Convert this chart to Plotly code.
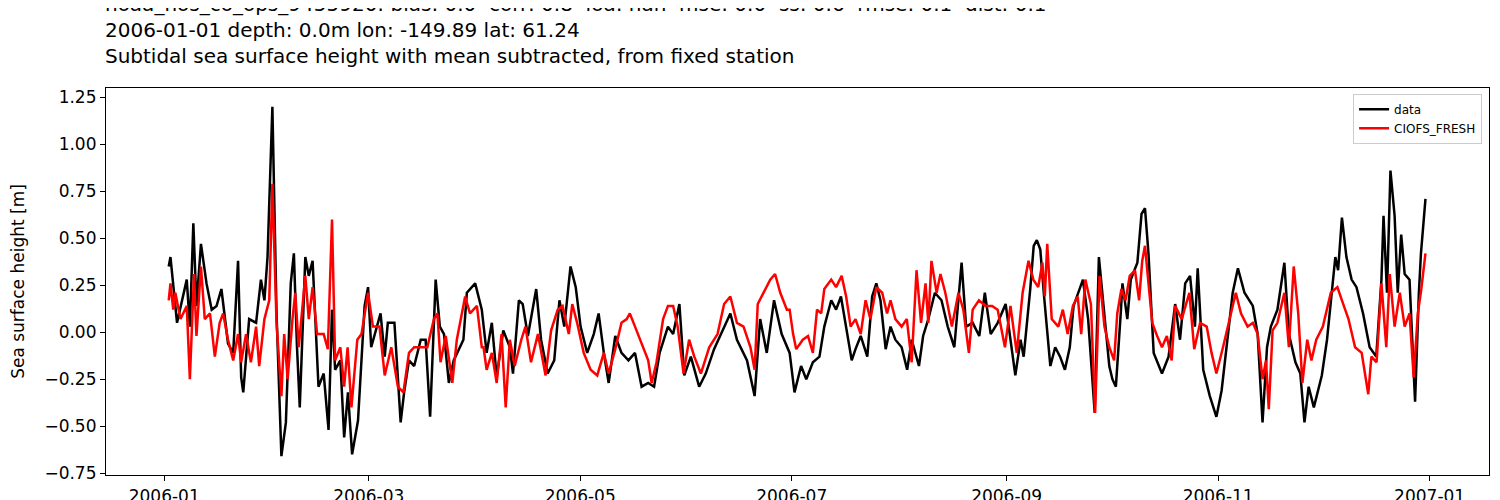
import pandas as pd
import plotly.graph_objects as go

# day-of-year offsets (days since 2006-01-01) and subtidal SSH [m]
data_days = [1.3, 1.8, 3.7, 6.5, 7.4, 8.4, 9.3, 10.6, 12.2, 13.7, 15.1, 16.5, 18.4, 19.9, 21.3, 22.2, 22.8, 24.5, 26.5, 27.9,
             28.9, 29.8, 31.2, 32.4, 33.8, 35.1, 36.5, 37.4, 38.3, 39.1, 40.7, 41.7, 42.8, 44.5, 46.0, 47.4, 48.4, 49.3, 50.8, 51.9,
             53.0, 54.2, 55.9, 57.8, 58.8, 59.7, 62.4, 63.6, 64.5, 66.4, 68.2, 69.2, 70.6, 72.1, 74.0, 75.4, 76.7, 78.3, 79.5, 80.7,
             82.1, 83.5, 86.3, 87.3, 89.7, 91.6, 93.0, 94.5, 95.9, 97.8, 99.7, 100.6, 102.3, 103.4, 104.9, 106.3, 107.3, 108.7, 110.6,
             112.5, 114.0, 115.4, 117.2, 118.7, 120.1, 122.0, 123.9, 125.3, 126.8, 128.2, 130.1, 131.9, 133.9, 135.8, 137.7, 139.6,
             141.3, 142.9, 145.3, 146.8, 148.6, 150.0, 151.9, 154.3, 156.2, 158.6, 161.5, 163.3, 165.2, 168.1, 170.3, 171.9, 173.8,
             175.9, 178.1, 180.4, 181.8, 183.7, 185.2, 187.1, 189.0, 190.4, 192.4, 193.8, 195.2, 196.6, 198.3, 199.4, 200.9, 202.8,
             204.2, 205.4, 206.6, 208.1, 209.5, 210.9, 212.7, 214.3, 215.6, 217.7, 218.9, 220.4, 222.3, 224.2, 226.0, 227.9, 230.0,
             231.3, 233.2, 235.1, 236.7, 238.4, 240.4, 242.7, 244.1, 245.5, 247.0, 247.9, 249.8, 250.8, 251.7, 252.7, 253.7, 255.6,
             257.0, 258.4, 259.8, 261.2, 262.3, 265.0, 266.5, 268.4, 269.6, 271.2, 272.6, 273.5, 274.5, 275.9, 276.4, 277.8, 278.8,
             280.7, 281.9, 282.9, 283.9, 285.4, 287.8, 289.7, 291.6, 293.0, 294.5, 295.9, 297.3, 298.1, 299.7, 301.6, 303.5, 305.0,
             306.8, 308.2, 309.7, 311.6, 314.0, 315.4, 316.8, 318.1, 319.2, 321.1, 323.1, 324.4, 326.3, 327.7, 328.9, 330.1, 331.6,
             333.9, 335.4, 337.8, 338.6, 339.7, 341.0, 342.5, 343.9, 345.8, 347.7, 349.6, 351.1, 351.7, 352.7, 353.7, 354.9, 355.8,
             356.8, 357.8, 359.2, 360.8, 361.9, 362.5, 363.8]
data_vals = [0.35, 0.40, 0.05, 0.28, 0.03, 0.58, 0.14, 0.47, 0.26, 0.12, 0.14, 0.23, -0.06, -0.11, 0.38, -0.24, -0.32, 0.07, 0.05, 0.28,
             0.17, 0.40, 1.20, 0.10, -0.66, -0.48, 0.26, 0.42, -0.08, -0.40, 0.40, 0.30, 0.38, -0.29, -0.22, -0.52, 0.12, -0.20, -0.15, -0.56,
             -0.32, -0.65, -0.47, 0.14, 0.24, -0.08, 0.10, -0.13, 0.05, 0.05, -0.48, -0.32, -0.15, -0.18, -0.04, -0.04, -0.45, 0.28, 0.03, -0.01,
             -0.27, -0.15, -0.04, 0.21, 0.26, 0.12, -0.11, 0.05, -0.24, 0.01, -0.08, -0.22, 0.17, 0.15, -0.02, 0.14, 0.23, -0.04, -0.22,
             -0.15, 0.17, 0.03, 0.35, 0.24, 0.03, -0.11, -0.01, 0.10, -0.11, -0.27, -0.02, -0.11, -0.15, -0.11, -0.29, -0.27,
             -0.29, -0.11, 0.03, -0.01, 0.15, -0.23, -0.13, -0.29, -0.22, -0.09, 0.03, 0.10, -0.04, -0.15, -0.34, 0.07, -0.11,
             0.17, -0.01, -0.11, -0.32, -0.18, -0.25, -0.16, -0.13, 0.03, 0.17, 0.12, 0.19, 0.03, -0.15, -0.09, -0.02, -0.13,
             0.19, 0.26, 0.17, -0.09, 0.03, -0.04, -0.08, -0.20, -0.04, -0.18, -0.02, 0.07, 0.21, 0.17, 0.03, -0.08, 0.37,
             0.03, 0.05, -0.02, 0.21, -0.01, 0.05, 0.15, -0.04, -0.23, -0.04, -0.13, 0.23, 0.46, 0.49, 0.44, 0.21, -0.18,
             -0.08, -0.13, -0.20, -0.08, 0.14, 0.28, 0.07, -0.43, 0.40, 0.07, -0.18, -0.25, -0.29, 0.10, 0.26, 0.07, 0.28,
             0.37, 0.63, 0.66, 0.42, -0.11, -0.22, -0.13, 0.15, -0.04, 0.26, 0.30, 0.03, 0.34, -0.20, -0.34, -0.45, -0.31,
             -0.01, 0.21, 0.34, 0.21, 0.14, -0.01, -0.48, -0.08, 0.03, 0.12, 0.37, -0.01, -0.16, -0.22, -0.48, -0.29, -0.40,
             -0.23, -0.04, 0.40, 0.33, 0.61, 0.40, 0.28, 0.24, 0.10, -0.08, -0.13, 0.28, 0.62, 0.21, 0.86, 0.62, 0.21,
             0.52, 0.31, 0.28, -0.37, 0.21, 0.42, 0.71]

model_days = [1.3, 1.8, 2.6, 3.2, 4.7, 6.5, 7.4, 8.6, 9.3, 10.6, 11.7, 13.2, 14.6, 16.0, 17.0, 18.4, 19.9, 21.3, 22.2, 23.6,
              25.0, 26.5, 27.4, 28.9, 30.3, 31.2, 32.4, 33.8, 34.6, 35.6, 37.0, 37.8, 38.8, 40.7, 41.7, 42.8, 44.1, 46.0, 47.2, 48.4,
              49.3, 50.8, 51.9, 52.9, 54.0, 55.7, 56.9, 58.8, 60.2, 62.1, 63.6, 65.5, 67.4, 69.0, 70.6, 72.1, 74.0, 75.9, 77.8, 78.8,
              79.7, 81.2, 83.1, 84.4, 86.8, 88.2, 90.2, 91.6, 92.1, 93.0, 94.5, 95.9, 97.3, 98.5, 99.7, 101.1, 103.0, 104.2, 105.8,
              107.8, 110.0, 111.6, 113.5, 114.9, 116.7, 117.7, 119.1, 121.0, 123.0, 124.9, 126.8, 128.2, 130.1, 131.9, 133.4, 134.3,
              135.8, 137.7, 139.6, 140.6, 142.0, 143.9, 145.3, 146.8, 148.1, 149.8, 151.4, 152.9, 154.8, 157.2, 159.6, 161.5, 163.3,
              165.2, 167.1, 169.1, 170.3, 171.2, 172.9, 174.8, 176.2, 177.7, 179.6, 180.4, 181.4, 182.3, 184.2, 185.7, 187.1, 188.3,
              189.5, 190.4, 192.4, 193.8, 195.4, 196.7, 198.0, 199.4, 200.9, 202.3, 203.7, 205.4, 207.1, 208.5, 209.5, 210.9, 212.7,
              214.2, 215.6, 217.0, 218.3, 219.6, 220.4, 221.3, 222.8, 223.9, 225.3, 227.2, 229.1, 230.5, 232.1, 233.2, 235.0, 236.9,
              238.8, 240.4, 242.5, 244.1, 245.9, 247.6, 249.3, 250.7, 252.1, 253.3, 254.0, 254.7, 256.0, 257.9, 259.2, 260.6, 262.1,
              263.5, 264.5, 265.7, 267.3, 268.5, 269.8, 271.2, 272.6, 274.0, 274.9, 276.1, 277.3, 278.5, 280.0, 281.2, 282.1, 282.9,
              283.8, 285.0, 286.4, 287.8, 289.2, 290.6, 291.6, 293.5, 295.7, 297.1, 298.8, 300.7, 302.1, 303.5, 305.4, 307.2, 309.1,
              310.6, 312.5, 314.0, 315.4, 316.8, 317.8, 318.6, 319.7, 321.1, 323.1, 324.4, 325.8, 327.1, 328.3, 329.7, 330.9, 332.3,
              334.2, 336.5, 338.4, 339.7, 341.6, 343.5, 345.4, 347.3, 348.2, 349.7, 351.1, 352.5, 353.5, 354.9, 356.4, 357.8, 359.2,
              360.4, 361.6, 362.6, 363.8]
model_vals = [0.17, 0.26, 0.12, 0.21, 0.07, 0.14, -0.25, 0.31, -0.02, 0.35, 0.07, 0.10, -0.13, 0.05, 0.10, -0.04, -0.15, -0.01, -0.16, -0.01,
              -0.16, 0.03, -0.18, 0.07, 0.17, 0.79, 0.05, -0.34, -0.01, -0.25, 0.07, 0.21, -0.08, 0.30, 0.07, 0.24, -0.01, -0.01, -0.09, 0.60,
              -0.15, -0.08, -0.29, -0.08, -0.40, -0.04, -0.01, 0.21, 0.03, 0.03, -0.23, -0.08, -0.29, -0.32, -0.11, -0.08, -0.08, -0.08, 0.07, 0.10,
              -0.16, -0.02, -0.27, -0.04, 0.19, 0.10, 0.14, -0.08, -0.08, -0.20, -0.11, -0.27, -0.01, -0.40, -0.04, -0.18, -0.04, 0.03, -0.16,
              -0.01, -0.23, 0.01, 0.12, 0.14, -0.01, 0.15, 0.05, -0.11, -0.20, -0.23, -0.11, -0.22, -0.09, 0.05, 0.07, 0.10,
              0.03, -0.06, -0.15, -0.27, -0.16, 0.07, 0.14, 0.14, 0.03, -0.22, -0.04, -0.13, -0.22, -0.08, -0.01, 0.15, 0.19,
              0.05, 0.03, -0.08, -0.20, 0.15, 0.21, 0.28, 0.31, 0.21, 0.12, 0.12, -0.01, -0.09, -0.04, -0.02, -0.11, 0.12,
              0.10, 0.23, 0.28, 0.24, 0.30, 0.19, 0.03, 0.07, -0.01, 0.17, 0.07, 0.24, 0.21, 0.10, 0.17, 0.07, 0.03,
              0.07, -0.16, 0.33, 0.05, 0.26, 0.05, 0.38, 0.21, 0.31, 0.21, 0.03, 0.21, 0.12, -0.11, 0.12, 0.17, 0.14,
              0.14, 0.12, -0.08, 0.14, -0.11, 0.21, 0.38, 0.28, 0.24, 0.37, 0.19, 0.47, 0.07, 0.03, 0.12, -0.01, 0.14,
              0.19, -0.01, 0.28, 0.15, -0.43, 0.30, 0.03, -0.08, -0.15, 0.10, 0.23, 0.17, 0.30, 0.33, 0.17, 0.38, 0.46,
              0.28, 0.05, -0.02, -0.08, -0.02, -0.15, 0.14, 0.07, 0.21, -0.09, 0.05, 0.03, -0.11, -0.22, -0.08, 0.07, 0.21,
              0.10, 0.03, 0.05, -0.01, -0.25, -0.15, -0.41, 0.01, 0.05, 0.21, -0.08, 0.35, 0.10, -0.27, -0.04, -0.15, -0.04,
              0.03, 0.21, 0.24, 0.17, 0.07, -0.08, -0.11, -0.33, -0.13, -0.16, 0.26, -0.08, 0.31, 0.03, 0.21, 0.03, 0.10,
              -0.24, 0.10, 0.23, 0.42]

start = pd.Timestamp("2006-01-01")
data_t = start + pd.to_timedelta(data_days, unit="D")
model_t = start + pd.to_timedelta(model_days, unit="D")

title = ("noaa_nos_co_ops_9455920: bias: 0.0  corr: 0.8  ioa: nan  mse: 0.0  ss: 0.6  rmse: 0.1  dist: 0.1<br>"
         "2006-01-01 depth: 0.0m lon: -149.89 lat: 61.24<br>"
         "Subtidal sea surface height with mean subtracted, from fixed station")

fig = go.Figure()
fig.add_trace(go.Scatter(x=data_t, y=data_vals, mode="lines", name="data",
                         line=dict(color="black", width=2.5)))
fig.add_trace(go.Scatter(x=model_t, y=model_vals, mode="lines", name="CIOFS_FRESH",
                         line=dict(color="red", width=2.5)))

axis_style = dict(showline=True, linecolor="black", linewidth=1.2, mirror=True, showgrid=False,
                  ticks="outside", ticklen=5, tickcolor="black", zeroline=False,
                  tickfont=dict(size=17, color="black"))
fig.update_layout(
    autosize=True,
    template="plotly_white",
    font=dict(family="DejaVu Sans", color="black"),
    margin=dict(l=98, r=3, t=80, b=33),
    title=dict(text=title, x=98 / 1500, xanchor="left", y=0.995, yanchor="top",
               font=dict(size=20, color="black")),
    showlegend=True,
    legend=dict(x=0.995, y=0.985, xanchor="right", yanchor="top", bgcolor="white",
                bordercolor="#cccccc", borderwidth=1, font=dict(size=12)),
    plot_bgcolor="white",
)
fig.update_xaxes(**axis_style, range=["2005-12-15 05:00", "2007-01-18 03:00"],
                 tickformat="%Y-%m", dtick="M2", tick0="2006-01-01")
fig.update_yaxes(**axis_style, range=[-0.76, 1.30], tickvals=[-0.75, -0.5, -0.25, 0, 0.25, 0.5, 0.75, 1.0, 1.25],
                 tickformat=".2f", title=dict(text="Sea surface height [m]", font=dict(size=17)))

fig.write_html("out.html", default_width="100%", default_height="100vh",
               config={"responsive": True})
